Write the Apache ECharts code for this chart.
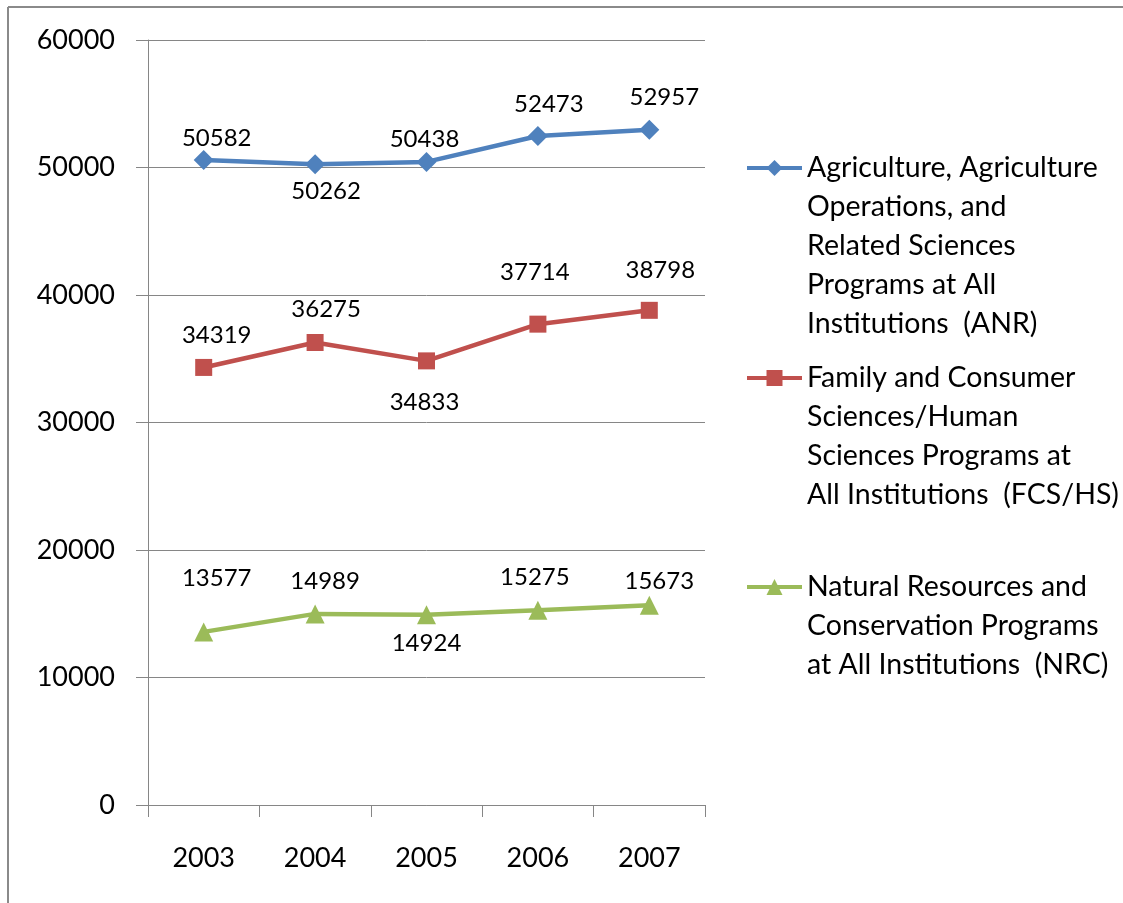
<!DOCTYPE html>
<html>
<head>
<meta charset="utf-8">
<style>html,body{margin:0;padding:0;background:#fff;}#c{width:1123px;height:903px;}</style>
<script src="https://cdn.jsdelivr.net/npm/echarts@6/dist/echarts.min.js"></script>
</head>
<body>
<div id="c"></div>
<script>
// ---- data ----
const years = ['2003', '2004', '2005', '2006', '2007'];
const anr = [50582, 50262, 50438, 52473, 52957];
const fcs = [34319, 36275, 34833, 37714, 38798];
const nrc = [13577, 14989, 14924, 15275, 15673];
const names = [
  'Agriculture, Agriculture\nOperations, and\nRelated Sciences\nPrograms at All\nInstitutions  (ANR)',
  'Family and Consumer\nSciences/Human\nSciences Programs at\nAll Institutions  (FCS/HS)',
  'Natural Resources and\nConservation Programs\nat All Institutions  (NRC)'
];
// ---- layout config (label offsets from point centre, px) ----
const anrLabelOffsets = [[13, -22], [11, 27], [-2, -23], [11, -32], [15, -33]];
const fcsLabelOffsets = [[13, -32], [11, -33], [-2, 41], [-3, -52], [11, -40]];
const nrcLabelOffsets = [[13, -54], [10, -33], [0, 29], [-3, -33], [10, -24]];
const colors = ['#4F81BD', '#C0504D', '#9BBB59'];
const FONT = 'Lato';
const LH = 39;

function mkData(vals, offs) {
  return vals.map((v, i) => ({value: v, label: {position: 'inside', offset: offs[i]}}));
}
function mkLegend(idx, iconY) {
  const n = names[idx].split('\n').length;
  return {
    data: [names[idx]],
    left: 740, top: iconY - (2 * n - 1) * LH / 2 - 5, orient: 'vertical',
    itemWidth: 55, itemHeight: 20, itemGap: 0,
    selectedMode: false,
    lineStyle: {width: 4},
    formatter: name => '\n'.repeat(n - 1) + name,
    textStyle: {fontFamily: FONT, fontSize: 28.5, color: '#000', lineHeight: LH}
  };
}
const chart = echarts.init(document.getElementById('c'));
const labelStyle = {show: true, fontFamily: FONT, fontSize: 24, color: '#000'};
chart.setOption({
  animation: false,
  backgroundColor: '#fff',
  grid: {left: 148, right: 418, top: 40, bottom: 98},
  graphic: [
    {type: 'line', shape: {x1: 8, y1: 7, x2: 1123, y2: 7}, style: {stroke: '#8a8a8a', lineWidth: 2}, silent: true},
    {type: 'line', shape: {x1: 8, y1: 7, x2: 8, y2: 903}, style: {stroke: '#8a8a8a', lineWidth: 2}, silent: true}
  ],
  legend: [mkLegend(0, 168), mkLegend(1, 378), mkLegend(2, 587)],
  xAxis: {
    type: 'category', data: years, boundaryGap: true,
    axisLine: {lineStyle: {color: '#868686', width: 1}},
    axisTick: {show: true, length: 12, lineStyle: {color: '#868686'}},
    axisLabel: {fontFamily: FONT, fontSize: 27, color: '#000', margin: 40}
  },
  yAxis: {
    type: 'value', min: 0, max: 60000, interval: 10000,
    axisLine: {show: true, lineStyle: {color: '#868686', width: 1}},
    axisTick: {show: true, length: 12, lineStyle: {color: '#868686'}},
    splitLine: {lineStyle: {color: '#868686', width: 1}},
    axisLabel: {fontFamily: FONT, fontSize: 27, color: '#000', margin: 33, formatter: v => String(v)}
  },
  series: [
    {name: names[0], type: 'line', data: mkData(anr, anrLabelOffsets), color: colors[0],
     symbol: 'diamond', symbolSize: 20, lineStyle: {width: 4.5}, label: labelStyle},
    {name: names[1], type: 'line', data: mkData(fcs, fcsLabelOffsets), color: colors[1],
     symbol: 'rect', symbolSize: 17, lineStyle: {width: 4.5}, label: labelStyle},
    {name: names[2], type: 'line', data: mkData(nrc, nrcLabelOffsets), color: colors[2],
     symbol: 'triangle', symbolSize: 19, lineStyle: {width: 4.5}, label: labelStyle}
  ]
});
</script>
</body>
</html>
